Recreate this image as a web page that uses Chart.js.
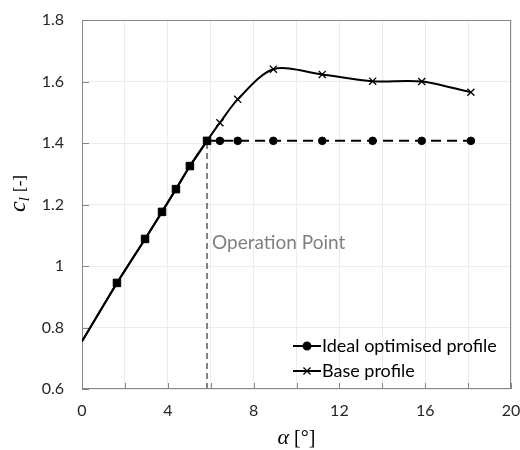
<!DOCTYPE html>
<html>
<head>
<meta charset="utf-8">
<script src="https://cdn.jsdelivr.net/npm/chart.js@4.4.1/dist/chart.umd.min.js"></script>
<style>
  body { margin: 0; background: #fff; }
  #wrap { width: 520px; height: 450px; }
</style>
</head>
<body>
<div id="wrap"><canvas id="chartCl" width="520" height="450"></canvas></div>
<script>
// angle of attack [deg] and lift coefficient
const alphaLinear = [0, 1.63, 2.94, 3.73, 4.38, 5.03, 5.83];
const clLinear = [0.755, 0.945, 1.088, 1.176, 1.25, 1.325, 1.407];
const alphaPost = [6.43, 7.26, 8.92, 11.2, 13.55, 15.84, 18.13];
const clBasePost = [1.466, 1.542, 1.64, 1.623, 1.601, 1.6, 1.565];
const clIdealPost = [1.407, 1.407, 1.407, 1.407, 1.407, 1.407, 1.407];
const opAlpha = 5.83;
const opCl = 1.407;
const xTickLabels = [0, 4, 8, 12, 16, 20];
const yTickLabels = ['0.6', '0.8', '1', '1.2', '1.4', '1.6', '1.8'];

const alphaAll = alphaLinear.concat(alphaPost);
const opIndex = alphaLinear.length - 1;

const baseData = alphaAll.map((a, i) => ({ x: a, y: clLinear.concat(clBasePost)[i] }));
const idealData = alphaAll.map((a, i) => ({ x: a, y: clLinear.concat(clIdealPost)[i] }));

const sansFont = 'Lato, "Open Sans", sans-serif';
const serifFont = '"Liberation Serif", "DejaVu Serif", serif';

// inside tick marks, axis titles, annotation and legend
const decor = {
  id: 'decor',
  beforeDatasetsDraw(chart) {
    const { ctx, chartArea: ca, scales } = chart;
    ctx.save();
    ctx.strokeStyle = '#868686';
    ctx.lineWidth = 1;
    ctx.beginPath();
    scales.x.ticks.forEach(t => {
      const px = Math.round(scales.x.getPixelForValue(t.value)) + 0.5;
      ctx.moveTo(px, ca.bottom);
      ctx.lineTo(px, ca.bottom - 6);
    });
    scales.y.ticks.forEach(t => {
      const py = Math.round(scales.y.getPixelForValue(t.value)) + 0.5;
      ctx.moveTo(ca.left, py);
      ctx.lineTo(ca.left + 7, py);
    });
    ctx.stroke();
    ctx.strokeRect(ca.left + 0.5, ca.top + 0.5, ca.right - ca.left - 1, ca.bottom - ca.top - 1);

    // operation point label
    ctx.fillStyle = '#7f7f7f';
    ctx.font = '19px ' + sansFont;
    ctx.textBaseline = 'middle';
    ctx.textAlign = 'left';
    ctx.fillText('Operation Point', scales.x.getPixelForValue(opAlpha) + 5, scales.y.getPixelForValue(1.075));
    ctx.restore();
  },
  afterDraw(chart) {
    const { ctx, chartArea: ca } = chart;
    ctx.save();
    ctx.fillStyle = '#000';
    ctx.textBaseline = 'alphabetic';

    // x title: α [°]
    ctx.font = 'italic 22px ' + serifFont;
    const wA = ctx.measureText('α').width;
    ctx.font = '20px ' + serifFont;
    const wB = ctx.measureText(' [°]').width;
    let x0 = (ca.left + ca.right) / 2 - (wA + wB) / 2;
    ctx.font = 'italic 22px ' + serifFont;
    ctx.fillText('α', x0, 444);
    ctx.font = '20px ' + serifFont;
    ctx.fillText(' [°]', x0 + wA, 444);

    // y title: c_l [-]
    ctx.translate(25, 194);
    ctx.rotate(-Math.PI / 2);
    ctx.font = 'italic 24px ' + serifFont;
    const wc = ctx.measureText('c').width;
    ctx.font = 'italic 15px ' + serifFont;
    const wl = ctx.measureText('l').width;
    ctx.font = '17px ' + serifFont;
    const wr = ctx.measureText(' [-]').width;
    let s = -(wc + wl + wr) / 2;
    ctx.font = 'italic 24px ' + serifFont;
    ctx.fillText('c', s, 0);
    ctx.font = 'italic 15px ' + serifFont;
    ctx.fillText('l', s + wc, 4);
    ctx.font = '17px ' + serifFont;
    ctx.fillText(' [-]', s + wc + wl + 1, 0);
    ctx.setTransform(1, 0, 0, 1, 0, 0);

    // legend
    const entries = [
      { label: 'Ideal optimised profile', style: 'circle', radius: 3.8 },
      { label: 'Base profile', style: 'crossRot', radius: 5 }
    ];
    const lx = ca.right - 218;
    entries.forEach((e, i) => {
      const ly = ca.bottom - 43 + i * 25;
      ctx.strokeStyle = '#000';
      ctx.fillStyle = '#000';
      ctx.lineWidth = 2;
      ctx.beginPath();
      ctx.moveTo(lx, ly);
      ctx.lineTo(lx + 28, ly);
      ctx.stroke();
      ctx.lineWidth = 1.3;
      Chart.helpers.drawPoint(ctx, { pointStyle: e.style, radius: e.radius, rotation: 0, borderWidth: 1.3 }, lx + 14, ly);
      ctx.fillStyle = '#000';
      ctx.font = '18px ' + sansFont;
      ctx.textBaseline = 'middle';
      ctx.fillText(e.label, lx + 29, ly);
    });
    ctx.restore();
  }
};

const ctx = document.getElementById('chartCl');
let grafico = new Chart(ctx, {
  type: 'line',
  data: {
    datasets: [{
      label: 'Operation Point',
      data: [{ x: opAlpha, y: 0.6 }, { x: opAlpha, y: opCl }],
      borderColor: '#7f7f7f',
      borderWidth: 2,
      borderDash: [6, 4],
      pointRadius: 0,
      tension: 0,
      order: 3
    }, {
      label: 'Base profile',
      data: baseData,
      borderColor: '#000',
      backgroundColor: '#000',
      borderWidth: 2,
      tension: 0.3,
      pointStyle: 'crossRot',
      pointRadius: alphaAll.map((a, i) => i === 0 ? 0 : 5),
      pointBorderWidth: 1.3,
      order: 2
    }, {
      label: 'Ideal optimised profile',
      data: idealData,
      borderColor: '#000',
      backgroundColor: '#000',
      borderWidth: 2,
      tension: 0,
      pointStyle: alphaAll.map((a, i) => i <= opIndex ? 'rect' : 'circle'),
      pointRadius: alphaAll.map((a, i) => i === 0 ? 0 : (i <= opIndex ? 5.3 : 3.8)),
      pointBorderWidth: 1,
      segment: {
        borderDash: c => c.p0DataIndex >= opIndex ? [10, 6] : undefined
      },
      order: 1
    }]
  },
  options: {
    responsive: false,
    animation: false,
    layout: { padding: { top: 20, right: 9, left: 0, bottom: 0 } },
    plugins: {
      legend: { display: false },
      tooltip: { enabled: false }
    },
    scales: {
      x: {
        type: 'linear',
        min: 0,
        max: 20,
        afterFit: s => { s.height = 61; s.paddingLeft = 0; s.paddingRight = 0; },
        ticks: {
          stepSize: 2,
          autoSkip: false,
          maxRotation: 0,
          padding: 12,
          color: '#262626',
          font: { family: sansFont, size: 16 },
          callback: v => xTickLabels.includes(v) ? String(v) : ''
        },
        grid: { color: '#ececec', drawTicks: false },
        border: { display: false }
      },
      y: {
        min: 0.6,
        max: 1.8,
        afterFit: s => { s.width = 82; s.paddingTop = 0; s.paddingBottom = 0; },
        afterBuildTicks: s => { s.ticks = yTickLabels.map(t => ({ value: parseFloat(t) })); },
        ticks: {
          padding: 18,
          color: '#262626',
          font: { family: sansFont, size: 16 },
          callback: v => yTickLabels.find(t => Math.abs(parseFloat(t) - v) < 1e-6)
        },
        grid: { color: '#ececec', drawTicks: false },
        border: { display: false }
      }
    }
  },
  plugins: [decor]
});
</script>
</body>
</html>
